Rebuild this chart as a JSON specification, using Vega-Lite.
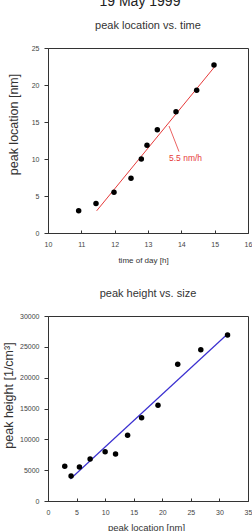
{
  "$schema": "https://vega.github.io/schema/vega-lite/v6.json",
  "padding": {"left": 1, "top": -6, "right": 0, "bottom": 0},
  "bounds": "flush",
  "spacing": 83,
  "title": {"text": "19 May 1999", "fontSize": 14, "font": "Liberation Sans", "fontWeight": "normal", "color": "#222", "anchor": "middle", "offset": 11, "dx": 13},
  "config": {
    "font": "Liberation Sans",
    "view": {"stroke": "#333", "strokeWidth": 1},
    "axis": {
      "grid": false,
      "domainColor": "#333",
      "tickColor": "#333",
      "labelColor": "#444",
      "labelFontSize": 7,
      "labelOverlap": false,
      "labelFlush": false,
      "titleColor": "#333",
      "titleFontWeight": "normal",
      "titleBaseline": "middle",
      "titleAlign": "center"
    },
    "title": {"fontSize": 11, "fontWeight": "normal", "color": "#333"}
  },
  "datasets": {
    "growth": [
      {"time": 10.92, "location": 3.0},
      {"time": 11.44, "location": 4.0},
      {"time": 11.98, "location": 5.5},
      {"time": 12.49, "location": 7.4},
      {"time": 12.80, "location": 10.0},
      {"time": 12.97, "location": 11.85},
      {"time": 13.28, "location": 13.96},
      {"time": 13.84, "location": 16.4},
      {"time": 14.46, "location": 19.3},
      {"time": 14.98, "location": 22.7}
    ],
    "growthFit": [
      {"time": 11.46, "location": 3.0},
      {"time": 15.0, "location": 22.47}
    ],
    "rateLeader": [
      {"time": 13.63, "location": 14.46, "time2": 13.93, "location2": 11.0}
    ],
    "rateLabel": [
      {"time": 13.63, "location": 10.09, "label": "5.5 nm/h"}
    ],
    "heights": [
      {"location": 2.93, "height": 5620},
      {"location": 4.04, "height": 4050},
      {"location": 5.5, "height": 5510},
      {"location": 7.37, "height": 6810},
      {"location": 10.0, "height": 8000},
      {"location": 11.82, "height": 7620},
      {"location": 13.93, "height": 10650},
      {"location": 16.38, "height": 13510},
      {"location": 19.25, "height": 15510},
      {"location": 22.7, "height": 22160},
      {"location": 26.74, "height": 24540},
      {"location": 31.42, "height": 26920}
    ],
    "heightFit": [
      {"location": 3.92, "height": 3570},
      {"location": 31.42, "height": 27080}
    ]
  },
  "vconcat": [
    {
      "width": 200,
      "height": 185,
      "title": {"text": "peak location vs. time", "offset": 13},
      "encoding": {
        "x": {"field": "time", "type": "quantitative", "scale": {"domain": [10, 16]},
          "axis": {"title": "time of day [h]", "titleFontSize": 8, "values": [10, 11, 12, 13, 14, 15, 16], "tickCount": 7, "tickSize": -3, "labelPadding": 10, "titleX": 95, "titleY": 27}},
        "y": {"field": "location", "type": "quantitative", "scale": {"domain": [0, 25]},
          "axis": {"title": "peak location [nm]", "titleFontSize": 12.5, "values": [0, 5, 10, 15, 20, 25], "tickCount": 6, "tickSize": 4, "labelPadding": 5, "titleX": -35, "titleY": 76}}
      },
      "layer": [
        {
          "data": {"name": "growthFit"},
          "mark": {"type": "line", "color": "#e63a3a", "strokeWidth": 1}
        },
        {
          "data": {"name": "rateLeader"},
          "mark": {"type": "rule", "color": "#e63a3a", "strokeWidth": 0.8},
          "encoding": {
            "x2": {"field": "time2"},
            "y2": {"field": "location2"}
          }
        },
        {
          "data": {"name": "rateLabel"},
          "mark": {"type": "text", "color": "#e63a3a", "fontSize": 8.5, "align": "left", "baseline": "middle"},
          "encoding": {
            "text": {"field": "label"}
          }
        },
        {
          "data": {"name": "growth"},
          "mark": {"type": "circle", "color": "black", "opacity": 1, "size": 30}
        }
      ]
    },
    {
      "width": 200,
      "height": 185,
      "title": {"text": "peak height vs. size", "offset": 13},
      "encoding": {
        "x": {"field": "location", "type": "quantitative", "scale": {"domain": [0, 35]},
          "axis": {"title": "peak location [nm]", "titleFontSize": 9.5, "values": [0, 5, 10, 15, 20, 25, 30, 35], "tickCount": 8, "tickSize": -3, "labelPadding": 10, "titleX": 98, "titleY": 26}},
        "y": {"field": "height", "type": "quantitative", "scale": {"domain": [0, 30000]},
          "axis": {"title": "peak height [1/cm³]", "titleFontSize": 12.5, "values": [0, 5000, 10000, 15000, 20000, 25000, 30000], "tickCount": 7, "format": "d", "tickSize": 4, "labelPadding": 5, "titleX": -40, "titleY": 79}}
      },
      "layer": [
        {
          "data": {"name": "heightFit"},
          "mark": {"type": "line", "color": "#3a2fd0", "strokeWidth": 1.2}
        },
        {
          "data": {"name": "heights"},
          "mark": {"type": "circle", "color": "black", "opacity": 1, "size": 30}
        }
      ]
    }
  ]
}
